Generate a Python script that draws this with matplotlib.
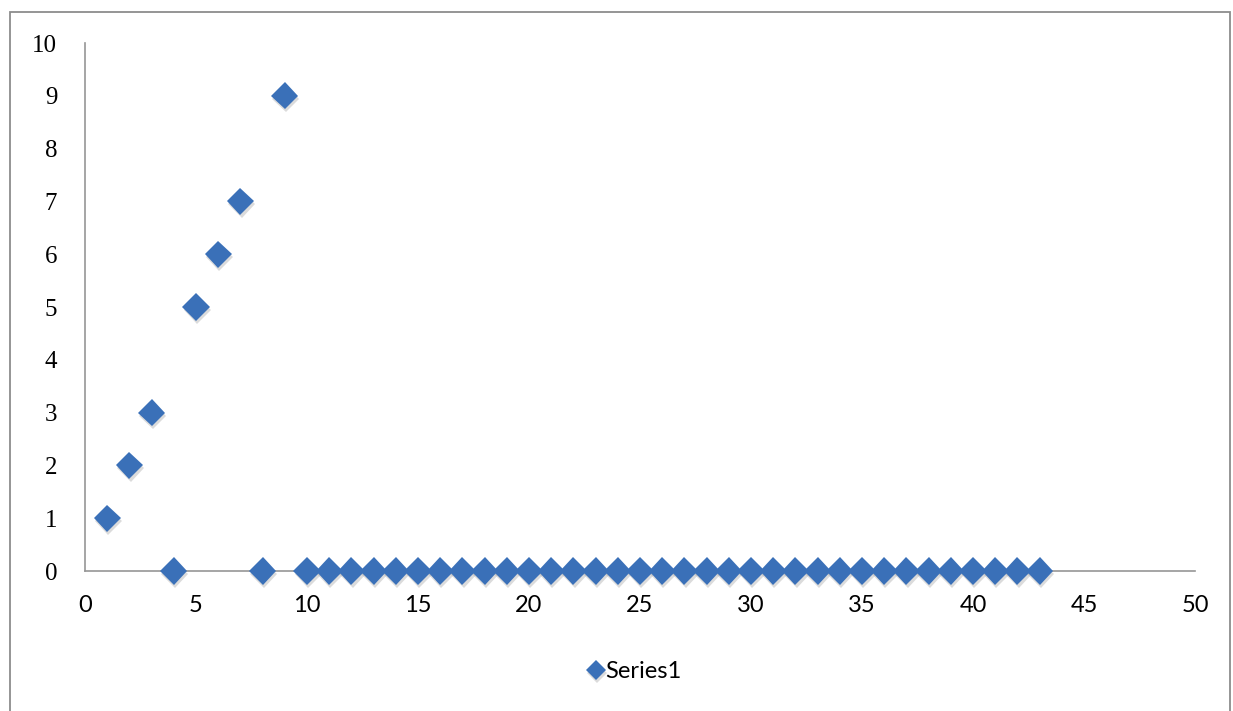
import matplotlib
matplotlib.use("Agg")
import matplotlib.pyplot as plt
import matplotlib.patheffects as pe
from matplotlib.patches import Rectangle

# data
x_vals = list(range(1, 44))
y_vals = [1, 2, 3, 0, 5, 6, 7, 0, 9] + [0] * 34
series_name = "Series1"
x_ticks = [0, 5, 10, 15, 20, 25, 30, 35, 40, 45, 50]
y_ticks = [0, 1, 2, 3, 4, 5, 6, 7, 8, 9, 10]

blue = "#3a70b8"
axis_gray = "#969696"

fig = plt.figure(figsize=(12.33, 7.11), dpi=100)
ax = fig.add_axes([85 / 1233, 1 - 571 / 711, 1110 / 1233, 528 / 711])

shadow = [pe.SimplePatchShadow(offset=(0.8, -2.2), shadow_rgbFace="#9a9a9a", alpha=0.35),
          pe.Normal()]
pts = ax.plot(x_vals, y_vals, linestyle="none", marker="D", markersize=13.8,
              color=blue, markeredgewidth=0, label=series_name, clip_on=False,
              zorder=3)
for p in pts:
    p.set_path_effects(shadow)

ax.set_xlim(0, 50)
ax.set_ylim(0, 10)
ax.set_xticks(x_ticks)
ax.set_yticks(y_ticks)
ax.set_xticklabels([str(t) for t in x_ticks], fontfamily="Lato", fontsize=17)
ax.set_yticklabels([str(t) for t in y_ticks], fontfamily="Liberation Serif", fontsize=18)
ax.tick_params(axis="x", length=0, pad=17)
ax.tick_params(axis="y", length=0, pad=20)

for side in ("top", "right"):
    ax.spines[side].set_visible(False)
for side in ("left", "bottom"):
    ax.spines[side].set_color(axis_gray)
    ax.spines[side].set_linewidth(1.2)

fig.legend(loc="center", bbox_to_anchor=(636 / 1233, 1 - 672 / 711),
           frameon=False, prop={"family": "Lato", "size": 17},
           handlelength=0.5, handletextpad=0.15, markerscale=0.72)

# outer chart border (bottom edge cut off in the original)
fig.patches.append(Rectangle((10 / 1233, -0.05), 1220 / 1233, 1 - 12 / 711 + 0.05,
                             transform=fig.transFigure, fill=False,
                             edgecolor="#8c8c8c", linewidth=1.3))

fig.savefig("out.png", dpi=100)
